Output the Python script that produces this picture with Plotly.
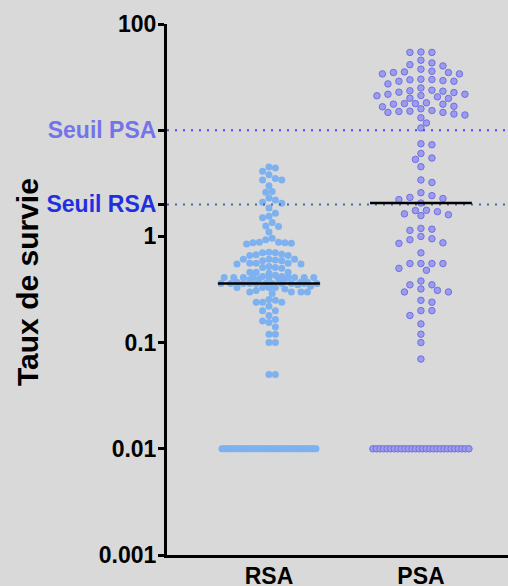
import numpy as np
import plotly.graph_objects as go

# ---------------- data ----------------
categories = ["RSA", "PSA"]

rsa_values = [
    4.5, 4.4, 4.1, 3.8, 3.5, 3.4, 3.4, 3.0, 2.65, 2.6, 2.3, 2.2, 2.1, 2.05,
    1.85, 1.65, 1.55, 1.5, 1.35, 1.25, 1.24, 1.1, 0.96, 0.93,
    0.88, 0.87, 0.87, 0.86, 0.85, 0.88,
    0.71, 0.70, 0.70, 0.68, 0.67, 0.66, 0.66,
    0.61, 0.61, 0.61, 0.60, 0.59, 0.59,
    0.56, 0.56, 0.56, 0.55, 0.55,
    0.52, 0.51, 0.51, 0.50,
    0.46, 0.46, 0.46, 0.45,
    0.43, 0.42, 0.42, 0.41, 0.41, 0.41, 0.41, 0.41, 0.41, 0.41, 0.41, 0.41,
    0.40, 0.40, 0.40, 0.39,
    0.37, 0.37, 0.37, 0.36, 0.36, 0.36, 0.36, 0.36, 0.36, 0.36, 0.36, 0.36,
    0.36, 0.36, 0.35,
    0.34, 0.33, 0.33, 0.33, 0.33, 0.32,
    0.31, 0.30, 0.30, 0.30, 0.30, 0.29,
    0.255, 0.25, 0.24, 0.24, 0.24, 0.22, 0.20, 0.20, 0.18,
    0.165, 0.16, 0.155, 0.14, 0.12, 0.12, 0.10, 0.10, 0.05, 0.05,
]
rsa_floor = [0.01] * 50

psa_values = [
    54.5, 54.0, 54.0, 45.6, 43.0, 41.4, 40.3, 37.5, 35.9, 34.9, 34.9, 35.4,
    33.9, 33.9, 30.2, 30.0, 29.8, 29.3, 28.9, 28.9, 27.3, 25.0, 23.8, 23.5,
    23.3, 22.8, 22.6, 21.8, 21.8, 21.2, 21.1, 20.6, 20.0, 19.9, 18.1, 17.8,
    17.8, 17.6, 17.6, 16.8, 16.6, 15.9, 15.3, 15.1, 15.0, 14.7, 14.7, 14.2,
    13.9, 13.1, 11.7, 10.5,
    7.45, 7.29, 6.04, 5.47, 5.31, 4.53, 3.40, 3.22, 2.58, 2.42, 2.33, 2.27,
    2.22, 2.06, 1.76, 1.75, 1.71, 1.63, 1.60, 1.57, 1.19, 1.17, 1.14, 1.00,
    0.95, 0.93, 0.87, 0.86,
    0.70, 0.555, 0.555, 0.555, 0.555, 0.50, 0.48, 0.38, 0.35, 0.35, 0.32,
    0.31, 0.30, 0.30, 0.25, 0.24, 0.20, 0.20, 0.18, 0.15, 0.12, 0.10, 0.07,
]
psa_floor = [0.01] * 28

seuil_rsa = 2.0
seuil_psa = 10.0

y_tickvals = [0.001, 0.01, 0.1, 1, seuil_rsa, seuil_psa, 100]
y_ticktext = ["0.001", "0.01", "0.1", "1",
              "<span style='color:#1E30E0'>Seuil RSA</span>",
              "<span style='color:#7474EA'>Seuil PSA</span>",
              "100"]

# ---------------- layout geometry ----------------
W, H = 508, 586
M_L, M_R, M_T, M_B = 167, 0, 24, 31
X_RANGE = [-0.671, 1.573]
Y_RANGE_LOG = [-3, 2]
plot_w = W - M_L - M_R
plot_h = H - M_T - M_B
px_per_x = plot_w / (X_RANGE[1] - X_RANGE[0])
px_per_decade = plot_h / (Y_RANGE_LOG[1] - Y_RANGE_LOG[0])


def swarm_offsets(values, step_px, diam_px, max_half_px, floor_half_px):
    vals = np.asarray(values, float)
    ypx = np.log10(vals) * px_per_decade
    xs = np.zeros(len(vals))
    uniq, counts = np.unique(vals, return_counts=True)
    crowded = {u for u, c in zip(uniq, counts) if (c - 1) * diam_px > 2 * max_half_px}
    for u in crowded:
        idx = np.where(vals == u)[0]
        xs[idx] = np.linspace(-floor_half_px, floor_half_px, len(idx))
    nmax = int(max_half_px // step_px)
    cands = sorted(range(-nmax, nmax + 1), key=lambda k: (abs(k), -k))
    placed = []
    order = np.argsort(-vals, kind="stable")
    for i in order:
        if vals[i] in crowded:
            continue
        best, best_d, best_alt = None, -1, 0.0
        for k in cands:
            x = k * step_px
            dmin = min([np.hypot(x - px, ypx[i] - py) for px, py in placed] + [1e9])
            if dmin >= diam_px:
                best = x
                break
            if dmin > best_d:
                best_d, best_alt = dmin, x
        if best is None:
            best = best_alt
        placed.append((best, ypx[i]))
        xs[i] = best
    return xs / px_per_x


rsa_all = rsa_values + rsa_floor
psa_all = psa_values + psa_floor
rsa_x = 0 + swarm_offsets(rsa_all, 3.2, 6.4, 51, 47)
psa_x = 1 + swarm_offsets(psa_all, 5.5, 7.4, 51, 48)

fig = go.Figure()

fig.add_trace(go.Scatter(
    x=rsa_x, y=rsa_all, mode="markers",
    marker=dict(size=7, color="#7DB1F0", line=dict(width=0)),
    showlegend=False, hoverinfo="y"))
fig.add_trace(go.Scatter(
    x=psa_x, y=psa_all, mode="markers",
    marker=dict(size=6.5, color="#9C9CEE", line=dict(width=1, color="#7070E2")),
    showlegend=False, hoverinfo="y"))

# threshold lines
fig.add_trace(go.Scatter(
    x=X_RANGE, y=[seuil_psa, seuil_psa], mode="lines",
    line=dict(color="#4848F0", width=2, dash="2px,6px"),
    showlegend=False, hoverinfo="skip"))
fig.add_trace(go.Scatter(
    x=X_RANGE, y=[seuil_rsa, seuil_rsa], mode="lines",
    line=dict(color="#4A68A8", width=2, dash="2px,6px"),
    showlegend=False, hoverinfo="skip"))

# median lines
for i, vals in enumerate([rsa_all, psa_all]):
    med = float(np.median(vals))
    fig.add_trace(go.Scatter(
        x=[i - 0.335, i + 0.335], y=[med, med], mode="lines",
        line=dict(color="black", width=2.5),
        showlegend=False, hoverinfo="skip"))

font_b = dict(family="Arial, Liberation Sans, sans-serif", color="black", size=23, weight="bold")

fig.update_layout(
    width=W, height=H,
    margin=dict(l=M_L, r=M_R, t=M_T, b=M_B, pad=0, autoexpand=False),
    paper_bgcolor="#D9D9D9", plot_bgcolor="#D9D9D9",
    xaxis=dict(range=X_RANGE, tickvals=[0, 1], ticktext=categories,
               showline=True, linecolor="black", linewidth=3, ticks="",
               showgrid=False, zeroline=False, tickfont=font_b,
               ticklabelstandoff=-2, automargin=False),
    yaxis=dict(type="log", range=Y_RANGE_LOG, tickvals=y_tickvals, ticktext=y_ticktext,
               showline=True, linecolor="black", linewidth=3,
               ticks="outside", ticklen=6, tickwidth=3, tickcolor="black",
               showgrid=False, zeroline=False, tickfont=font_b,
               ticklabelstandoff=-3, automargin=False),
    annotations=[dict(text="Taux de survie", xref="paper", yref="paper",
                      x=(27 - M_L) / plot_w, y=(H - M_B - 282) / plot_h,
                      xanchor="center", yanchor="middle", textangle=-90,
                      showarrow=False,
                      font=dict(family="Arial, Liberation Sans, sans-serif",
                                size=30, color="black", weight="bold"))],
)

fig.write_html("out.html")
